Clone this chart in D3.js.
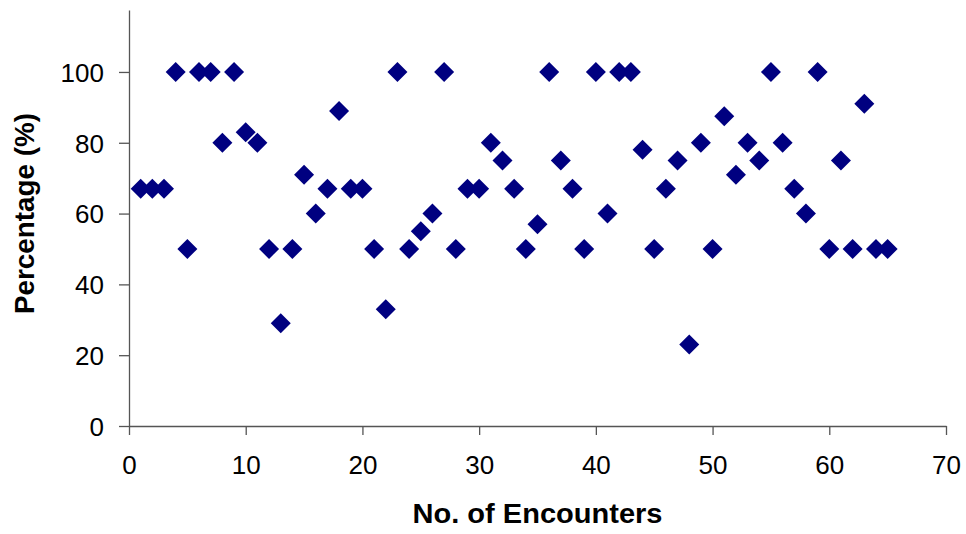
<!DOCTYPE html>
<html>
<head>
<meta charset="utf-8">
<script src="https://cdn.jsdelivr.net/npm/d3@7"></script>
<style>
  body { margin: 0; background: #fff; }
  svg { display: block; }
</style>
</head>
<body>
<svg id="chart" width="966" height="534"></svg>
<script>
// data
const encounters = d3.range(1, 66);
const percentages = [
  67, 67, 67, 100, 50, 100, 100, 80, 100, 83,
  80, 50, 29, 50, 71, 60, 67, 89, 67, 67,
  50, 33, 100, 50, 55, 60, 100, 50, 67, 67,
  80, 75, 67, 50, 57, 100, 75, 67, 50, 100,
  60, 100, 100, 78, 50, 67, 75, 23, 80, 50,
  87.5, 71, 80, 75, 100, 80, 67, 60, 100, 50,
  75, 50, 91, 50, 50
];
const xTicks = [0, 10, 20, 30, 40, 50, 60, 70];
const yTicks = [0, 20, 40, 60, 80, 100];

const margin = { top: 10, right: 20, bottom: 108, left: 129 };
const svg = d3.select("#chart");
const width = +svg.attr("width") - margin.left - margin.right;
const height = +svg.attr("height") - margin.top - margin.bottom;

const x = d3.scaleLinear().domain([0, 70]).range([0, width]);
const y = d3.scaleLinear().domain([0, 117.5]).range([height, 0]);

const g = svg.append("g").attr("transform", `translate(${margin.left},${margin.top})`);

const styleAxis = (sel) => {
  sel.selectAll("path, line").attr("stroke", "#555").attr("stroke-width", 1.3);
  sel.selectAll("text")
    .attr("fill", "#000")
    .style("font-family", "'Liberation Sans', Arial, sans-serif")
    .style("font-size", "26px");
};

g.append("g")
  .attr("transform", `translate(0,${height})`)
  .call(d3.axisBottom(x).tickValues(xTicks).tickSize(9).tickSizeOuter(0).tickPadding(21))
  .call(styleAxis);

g.append("g")
  .call(d3.axisLeft(y).tickValues(yTicks).tickSize(10).tickSizeOuter(0).tickPadding(15))
  .call(styleAxis)
  .call(a => a.selectAll("text").attr("dy", "0.36em"));

// markers
const diamond = d3.symbol(d3.symbolSquare, 200)();
g.selectAll(".pt")
  .data(encounters)
  .join("path")
  .attr("class", "pt")
  .attr("d", diamond)
  .attr("fill", "#000080")
  .attr("transform", (d, i) => `translate(${x(d)},${y(percentages[i])}) rotate(45)`);

// axis titles
svg.append("text")
  .attr("x", margin.left + width / 2)
  .attr("y", 523)
  .attr("text-anchor", "middle")
  .attr("textLength", 250)
  .attr("lengthAdjust", "spacingAndGlyphs")
  .style("font-family", "'Liberation Sans', Arial, sans-serif")
  .style("font-weight", "bold")
  .style("font-size", "27px")
  .text("No. of Encounters");

svg.append("text")
  .attr("transform", `translate(34,${margin.top + y(60)}) rotate(-90)`)
  .attr("text-anchor", "middle")
  .attr("textLength", 201)
  .attr("lengthAdjust", "spacingAndGlyphs")
  .style("font-family", "'Liberation Sans', Arial, sans-serif")
  .style("font-weight", "bold")
  .style("font-size", "27px")
  .text("Percentage (%)");
</script>
</body>
</html>
